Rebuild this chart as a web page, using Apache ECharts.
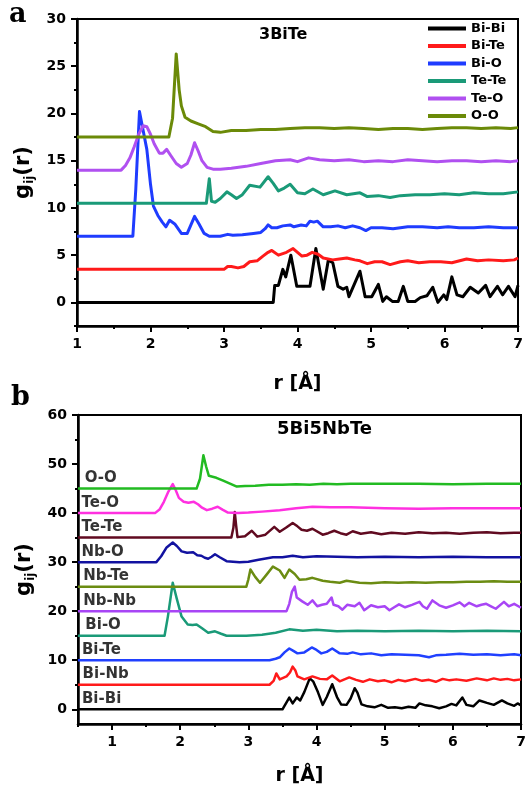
<!DOCTYPE html>
<html><head><meta charset="utf-8">
<script src="https://cdn.jsdelivr.net/npm/echarts@6/dist/echarts.min.js"></script>
<style>html,body{margin:0;padding:0;background:#fff}#c{width:529px;height:787px}</style>
</head><body><div id="c"></div>
<script>
// ---------------- Panel a (3BiTe) ----------------
const aNames = ['Bi-Bi','Bi-Te','Bi-O','Te-Te','Te-O','O-O'];
const aColors = ['#000000','#ff1a1a','#1f3cff','#1a9a78','#b050f0','#6b8a08'];
const a_BiBi = [[1,0],[3.67,0],[3.69,1.8],[3.74,1.8],[3.8,3.5],[3.84,2.7],[3.91,5.0],[3.99,1.7],[4.17,1.7],[4.25,5.7],[4.35,1.4],[4.42,4.5],[4.48,4.2],[4.55,1.7],[4.62,1.4],[4.67,1.6],[4.7,0.6],[4.85,3.3],[4.92,0.6],[5.01,0.6],[5.1,1.9],[5.16,0.1],[5.21,0.6],[5.29,0.1],[5.37,0.1],[5.44,1.7],[5.5,0.1],[5.6,0.1],[5.67,0.5],[5.76,0.7],[5.84,1.6],[5.91,0],[5.99,0.8],[6.03,0.3],[6.1,2.7],[6.17,0.8],[6.25,0.6],[6.35,1.6],[6.46,1.0],[6.56,1.8],[6.62,0.6],[6.72,1.7],[6.79,0.8],[6.87,1.7],[6.96,0.6],[7,1.8]];
const a_BiTe = [[1,3.5],[3.0,3.5],[3.05,3.8],[3.1,3.8],[3.19,3.65],[3.27,3.8],[3.35,4.3],[3.45,4.4],[3.53,4.9],[3.6,5.3],[3.65,5.5],[3.74,5.0],[3.85,5.3],[3.94,5.7],[4.06,4.9],[4.13,5.0],[4.2,5.3],[4.28,5.1],[4.35,4.7],[4.48,4.5],[4.57,4.6],[4.67,4.7],[4.78,4.5],[4.85,4.4],[4.95,4.1],[5.05,4.3],[5.15,4.3],[5.26,4.0],[5.4,4.3],[5.5,4.4],[5.65,4.2],[5.8,4.3],[5.95,4.3],[6.1,4.2],[6.3,4.6],[6.45,4.4],[6.6,4.5],[6.8,4.4],[6.95,4.5],[7,4.7]];
const a_BiO = [[1,7],[1.76,7],[1.8,12],[1.85,20.2],[1.9,18.2],[1.95,16.2],[2.0,12.5],[2.04,10.2],[2.1,9.2],[2.16,8.5],[2.21,8.0],[2.26,8.7],[2.33,8.3],[2.42,7.3],[2.5,7.3],[2.55,8.2],[2.6,9.1],[2.66,8.3],[2.73,7.3],[2.8,7.0],[2.95,7.0],[3.05,7.2],[3.12,7.1],[3.25,7.15],[3.4,7.3],[3.5,7.4],[3.56,7.8],[3.6,8.2],[3.65,7.9],[3.72,7.9],[3.8,8.1],[3.9,8.2],[3.95,8.0],[4.05,8.2],[4.12,8.1],[4.17,8.6],[4.22,8.5],[4.27,8.6],[4.35,8.0],[4.45,8.0],[4.55,8.1],[4.65,7.9],[4.75,8.1],[4.85,7.9],[4.93,7.6],[5.0,7.9],[5.15,7.9],[5.3,7.8],[5.5,8.0],[5.7,8.0],[5.9,7.9],[6.05,8.0],[6.2,7.9],[6.4,7.9],[6.6,8.0],[6.8,7.9],[7,7.9]];
const a_TeTe = [[1,10.5],[2.76,10.5],[2.8,13.1],[2.83,10.7],[2.88,10.6],[2.95,11.0],[3.04,11.7],[3.1,11.4],[3.17,11.0],[3.25,11.4],[3.35,12.4],[3.49,12.2],[3.6,13.3],[3.67,12.6],[3.74,11.8],[3.82,12.1],[3.9,12.5],[4.0,11.6],[4.1,11.5],[4.21,12.0],[4.35,11.4],[4.51,11.8],[4.67,11.4],[4.85,11.6],[4.95,11.2],[5.1,11.3],[5.26,11.1],[5.4,11.3],[5.6,11.4],[5.8,11.4],[6.0,11.5],[6.2,11.4],[6.4,11.6],[6.6,11.5],[6.8,11.5],[7,11.7]];
const a_TeO = [[1,14],[1.6,14],[1.66,14.5],[1.72,15.3],[1.78,16.5],[1.84,17.8],[1.9,18.7],[1.95,18.6],[2.0,17.8],[2.05,16.8],[2.12,15.8],[2.17,15.8],[2.22,16.2],[2.28,15.5],[2.35,14.7],[2.42,14.3],[2.5,14.7],[2.55,15.6],[2.6,16.9],[2.65,16.0],[2.7,15.0],[2.77,14.3],[2.85,14.1],[2.95,14.1],[3.1,14.2],[3.3,14.4],[3.5,14.7],[3.7,15.0],[3.9,15.1],[4.0,14.9],[4.15,15.3],[4.3,15.1],[4.5,15.0],[4.7,15.1],[4.9,14.9],[5.1,15.0],[5.3,14.9],[5.5,15.1],[5.7,15.0],[5.9,14.9],[6.1,15.0],[6.3,15.0],[6.5,14.9],[6.7,15.0],[6.9,14.9],[7,15.0]];
const a_OO = [[1,17.5],[2.25,17.5],[2.3,19.5],[2.35,26.3],[2.39,22.5],[2.42,20.8],[2.47,19.6],[2.55,19.2],[2.65,18.9],[2.75,18.6],[2.85,18.1],[2.95,18.0],[3.1,18.2],[3.3,18.2],[3.5,18.3],[3.7,18.3],[3.9,18.4],[4.1,18.5],[4.3,18.5],[4.5,18.4],[4.7,18.5],[4.9,18.4],[5.1,18.3],[5.3,18.4],[5.5,18.4],[5.7,18.3],[5.9,18.4],[6.1,18.5],[6.3,18.5],[6.5,18.4],[6.7,18.5],[6.9,18.4],[7,18.5]];
const aData = [a_BiBi,a_BiTe,a_BiO,a_TeTe,a_TeO,a_OO];
const aXTicks = [1,2,3,4,5,6,7];
const aYTicks = [0,5,10,15,20,25,30];
const aYMinor = [-2.5,2.5,7.5,12.5,17.5,22.5,27.5];

// ---------------- Panel b (5Bi5NbTe) ----------------
const bNames = ['Bi-Bi','Bi-Nb','Bi-Te','Bi-O','Nb-Nb','Nb-Te','Nb-O','Te-Te','Te-O','O-O'];
const bColors = ['#000000','#ff1a1a','#2040ff','#1a9a78','#a845f5','#6b8c12','#1212a0','#600a20','#ff30e0','#22bb22'];
const bOffsets = [0,5,10,15,20,25,30,35,40,45];
const bLabelX = [0.55,0.56,0.55,0.6,0.57,0.57,0.545,0.545,0.545,0.59];
const b_BiBi = [[0.5,0],[3.5,0],[3.6,2.4],[3.65,1.2],[3.71,2.4],[3.76,1.8],[3.82,3.5],[3.9,6.3],[3.95,5.7],[4.02,3.5],[4.09,0.9],[4.15,2.5],[4.23,5.1],[4.3,2.5],[4.36,1.0],[4.44,0.9],[4.5,2.2],[4.56,4.3],[4.6,3.4],[4.66,1.0],[4.75,0.6],[4.85,0.4],[4.95,0.9],[5.05,0.3],[5.15,0.4],[5.25,0.2],[5.35,0.5],[5.45,0.3],[5.51,1.2],[5.6,0.8],[5.7,0.6],[5.8,0.2],[5.9,0.6],[5.98,1.1],[6.05,0.8],[6.14,2.4],[6.2,0.9],[6.3,0.6],[6.39,1.8],[6.5,1.3],[6.6,0.9],[6.72,1.8],[6.8,1.2],[6.9,0.7],[6.95,1.2],[7,0.8]];
const b_BiNb = [[0.5,5],[3.31,5],[3.37,5.8],[3.41,7.3],[3.46,6.1],[3.56,6.7],[3.61,7.5],[3.65,8.7],[3.69,7.9],[3.72,6.7],[3.82,6.1],[3.94,6.7],[4.05,6.2],[4.15,6.1],[4.23,6.9],[4.34,5.7],[4.48,6.5],[4.58,6.0],[4.68,5.6],[4.78,6.1],[4.9,5.7],[5.0,5.9],[5.1,5.5],[5.2,6.0],[5.3,5.7],[5.45,6.2],[5.55,5.8],[5.65,6.0],[5.75,5.6],[5.85,6.2],[5.95,5.9],[6.05,6.1],[6.2,5.8],[6.35,6.3],[6.5,5.9],[6.6,6.3],[6.7,6.0],[6.8,6.2],[6.9,5.9],[7,6.1]];
const b_BiTe = [[0.5,10],[3.31,10],[3.4,10.3],[3.46,10.6],[3.53,11.6],[3.6,12.4],[3.66,11.9],[3.72,11.4],[3.82,11.6],[3.93,12.6],[4.0,12.1],[4.07,11.4],[4.15,11.7],[4.23,12.4],[4.34,11.4],[4.45,11.3],[4.53,11.6],[4.65,11.2],[4.8,11.4],[4.95,11.0],[5.1,11.2],[5.3,11.1],[5.5,11.0],[5.65,10.6],[5.75,11.0],[5.9,11.1],[6.1,11.3],[6.3,11.1],[6.5,11.2],[6.7,11.0],[6.9,11.2],[7,11.0]];
const b_BiO = [[0.5,15],[1.77,15],[1.82,19],[1.89,25.8],[1.95,22.5],[2.02,18.9],[2.11,17.3],[2.18,17.2],[2.24,17.3],[2.32,16.5],[2.41,15.6],[2.51,15.9],[2.6,15.4],[2.68,15.0],[2.97,15.0],[3.2,15.2],[3.4,15.6],[3.6,16.3],[3.8,16.0],[4.0,16.2],[4.3,15.9],[4.6,16.0],[5.0,15.9],[5.5,16.0],[6.0,15.9],[6.5,16.0],[7,15.9]];
const b_NbNb = [[0.5,20],[3.56,20],[3.6,21.5],[3.64,24.0],[3.68,25.0],[3.71,22.8],[3.79,22.0],[3.87,21.3],[3.94,22.2],[4.01,21.0],[4.08,21.3],[4.15,21.5],[4.22,22.8],[4.25,21.3],[4.32,21.0],[4.38,20.3],[4.45,21.3],[4.56,21.0],[4.63,21.7],[4.7,20.2],[4.8,21.2],[4.9,20.8],[5.0,21.0],[5.07,20.2],[5.14,20.8],[5.21,21.4],[5.3,20.8],[5.4,21.3],[5.51,21.9],[5.56,21.0],[5.62,20.5],[5.7,22.2],[5.8,21.2],[5.9,20.7],[6.0,21.2],[6.1,21.8],[6.17,21.0],[6.24,21.7],[6.35,21.0],[6.42,21.3],[6.49,21.5],[6.56,21.0],[6.63,20.5],[6.75,21.9],[6.82,21.0],[6.9,21.5],[7,20.7]];
const b_NbTe = [[0.5,25],[2.97,25],[3.0,26.5],[3.03,28.5],[3.1,27.0],[3.17,25.8],[3.27,27.5],[3.36,29.1],[3.46,28.3],[3.53,26.8],[3.6,28.5],[3.68,27.6],[3.75,26.4],[3.85,26.5],[3.94,26.8],[4.09,26.2],[4.2,26.0],[4.34,25.8],[4.44,26.2],[4.63,25.8],[4.8,25.7],[5.0,25.9],[5.2,25.8],[5.4,25.9],[5.6,25.8],[5.8,25.9],[6.0,25.9],[6.2,26.0],[6.4,26.0],[6.6,26.1],[6.8,26.0],[7,26.0]];
const b_NbO = [[0.5,30],[1.65,30],[1.72,31.2],[1.8,33.0],[1.89,34.0],[1.95,33.3],[2.02,32.2],[2.1,31.9],[2.19,32.0],[2.25,31.4],[2.31,31.3],[2.36,30.9],[2.41,30.7],[2.46,31.1],[2.51,31.6],[2.58,31.0],[2.68,30.2],[2.87,30.0],[3.0,30.1],[3.15,30.5],[3.36,31.0],[3.5,31.0],[3.65,31.3],[3.8,31.0],[4.0,31.2],[4.3,31.1],[4.6,31.0],[5.0,31.1],[5.5,31.0],[6.0,31.1],[6.5,31.0],[7,31.0]];
const b_TeTe = [[0.5,35],[2.75,35],[2.78,37],[2.8,40.2],[2.82,37.5],[2.84,35.1],[2.95,35.3],[3.05,36.4],[3.13,35.2],[3.25,35.6],[3.38,37.2],[3.46,36.2],[3.55,37.0],[3.65,38.0],[3.72,37.3],[3.78,36.6],[3.86,36.4],[3.94,36.8],[4.09,35.6],[4.17,35.9],[4.26,36.4],[4.35,35.9],[4.44,35.6],[4.53,36.3],[4.65,35.8],[4.8,36.1],[4.95,35.7],[5.1,36.0],[5.3,35.8],[5.5,36.1],[5.7,35.9],[5.9,36.0],[6.1,35.8],[6.3,36.0],[6.5,36.1],[6.7,35.9],[6.9,36.0],[7,36.0]];
const b_TeO = [[0.5,40],[1.63,40],[1.7,40.8],[1.76,42.3],[1.82,44.2],[1.89,45.9],[1.93,44.8],[1.98,43.1],[2.05,42.3],[2.12,42.1],[2.2,42.3],[2.26,41.8],[2.32,41.1],[2.39,40.6],[2.47,40.9],[2.55,41.3],[2.62,40.7],[2.7,40.1],[2.85,40.0],[3.0,40.1],[3.2,40.3],[3.46,40.6],[3.7,41.0],[3.94,41.3],[4.2,41.2],[4.5,41.2],[5.0,41.0],[5.5,40.9],[6.0,41.0],[6.5,41.0],[7,41.0]];
const b_OO = [[0.5,45],[2.24,45],[2.29,47],[2.34,51.8],[2.38,49.5],[2.42,47.6],[2.53,47.2],[2.63,46.6],[2.73,46.0],[2.83,45.4],[2.95,45.5],[3.1,45.6],[3.3,45.8],[3.5,45.8],[3.7,45.9],[3.9,45.8],[4.1,46.0],[4.3,45.9],[4.5,46.0],[5,46.0],[5.5,46.0],[6,45.9],[6.5,46.0],[7,46.0]];
const bData = [b_BiBi,b_BiNb,b_BiTe,b_BiO,b_NbNb,b_NbTe,b_NbO,b_TeTe,b_TeO,b_OO];
const bXTicks = [1,2,3,4,5,6,7];
const bXMinor = [0.5,1.5,2.5,3.5,4.5,5.5,6.5];
const bYTicks = [0,10,20,30,40,50,60];
const bYMinor = [5,15,25,35,45,55];

// ---------------- styling ----------------
const FONT = '"DejaVu Sans", Arial, sans-serif';
const lab = {fontFamily: FONT, fontWeight: 'bold', fontSize: 14, color: '#000'};
const AX = {color: '#000', width: 2.5};

function mainAxis(grid, min, max, ticks, extra) {
  return Object.assign({
    gridIndex: grid, type: 'value', min: min, max: max,
    axisLine: {show: true, onZero: false, lineStyle: AX},
    axisTick: {show: true, length: 6, customValues: ticks, lineStyle: {color: '#000', width: 2}},
    axisLabel: Object.assign({customValues: ticks}, lab),
    splitLine: {show: false}
  }, extra);
}
function minorAxis(grid, min, max, ticks, pos) {
  return {
    gridIndex: grid, type: 'value', min: min, max: max, position: pos, offset: 0,
    axisLine: {show: false, onZero: false},
    axisTick: {show: true, length: 3, customValues: ticks, lineStyle: {color: '#000', width: 2}},
    axisLabel: {show: false}, splitLine: {show: false}
  };
}
const xName = {
  name: 'r [Å]', nameLocation: 'middle',
  nameTextStyle: {fontFamily: FONT, fontWeight: 'bold', fontSize: 19, color: '#000'}
};
const yName = {
  name: '{g|g}{s|ij}{g|(r)}', nameLocation: 'middle',
  nameTextStyle: {rich: {
    g: {fontFamily: FONT, fontWeight: 'bold', fontSize: 21, color: '#000', lineHeight: 24},
    s: {fontFamily: FONT, fontWeight: 'bold', fontSize: 12, color: '#000', lineHeight: 10, verticalAlign: 'bottom'}
  }}
};

const xAxis = [
  mainAxis(0, 1, 7, aXTicks, Object.assign({position: 'bottom', interval: 1,
    minorTick: {show: true, splitNumber: 2, length: 3, lineStyle: {color: '#000', width: 2}},
    axisLabel: Object.assign({customValues: aXTicks, margin: 11}, lab), nameGap: 49}, xName)),
  mainAxis(1, 0.5, 7, bXTicks, Object.assign({position: 'bottom',
    axisLabel: Object.assign({customValues: bXTicks, margin: 11}, lab), nameGap: 43}, xName)),
  minorAxis(1, 0.5, 7, bXMinor, 'bottom')
];
const yAxis = [
  mainAxis(0, -2.5, 30, aYTicks, Object.assign({position: 'left',
    axisLabel: Object.assign({customValues: aYTicks, margin: 11}, lab), nameGap: 40}, yName)),
  minorAxis(0, -2.5, 30, aYMinor, 'left'),
  mainAxis(1, -3, 60, bYTicks, Object.assign({position: 'left',
    axisLabel: Object.assign({customValues: bYTicks, margin: 11}, lab), nameGap: 40}, yName)),
  minorAxis(1, -3, 60, bYMinor, 'left')
];

function lineSeries(name, data, color, xi, yi, w) {
  return {type: 'line', name: name, data: data, xAxisIndex: xi, yAxisIndex: yi,
    symbol: 'none', showSymbol: false, color: color,
    lineStyle: {color: color, width: w, join: 'round'}, itemStyle: {color: color},
    animation: false, z: 3};
}
const series = [];
aNames.forEach((n, i) => series.push(lineSeries(n, aData[i], aColors[i], 0, 0, 3)));
bNames.forEach((n, i) => series.push(lineSeries('b ' + n, bData[i], bColors[i], 1, 2, 2.5)));
series.push({
  type: 'scatter', name: 'b labels', xAxisIndex: 1, yAxisIndex: 2,
  symbolSize: 1, itemStyle: {color: 'rgba(0,0,0,0)'}, animation: false, z: 5, silent: true,
  data: bNames.map((n, i) => ({value: [bLabelX[i], bOffsets[i] + 2.1], name: n})),
  label: {show: true, position: 'right', distance: 0, formatter: p => p.name,
    fontFamily: FONT, fontWeight: 'bold', fontSize: 15, color: '#000'},
  labelLayout: {hideOverlap: false}
});

const option = {
  backgroundColor: '#fff',
  animation: false,
  grid: [
    {left: 77, right: 11, top: 19, height: 307, show: true, borderColor: '#000', borderWidth: 2, backgroundColor: 'transparent'},
    {left: 78, right: 8, top: 415, height: 309, show: true, borderColor: '#000', borderWidth: 2, backgroundColor: 'transparent'}
  ],
  xAxis: xAxis, yAxis: yAxis,
  legend: {
    data: aNames, orient: 'vertical', left: 428, top: 22, itemWidth: 38, itemHeight: 4,
    itemGap: 4.5, padding: 0, icon: 'rect', selectedMode: false,
    textStyle: {fontFamily: FONT, fontWeight: 'bold', fontSize: 13, color: '#000'}
  },
  graphic: [
    {type: 'text', left: 9, top: 1, style: {text: 'a', font: 'bold 27px "DejaVu Serif", serif', fill: '#000'}},
    {type: 'text', left: 11, top: 384, style: {text: 'b', font: 'bold 27px "DejaVu Serif", serif', fill: '#000'}},
    {type: 'text', left: 259, top: 27, style: {text: '3BiTe', font: 'bold 16px "DejaVu Sans", sans-serif', fill: '#000'}},
    {type: 'text', left: 277, top: 420, style: {text: '5Bi5NbTe', font: 'bold 18px "DejaVu Sans", sans-serif', fill: '#000'}}
  ],
  series: series
};
const chart = echarts.init(document.getElementById('c'), null, {renderer: 'canvas'});
chart.setOption(option);
</script></body></html>
